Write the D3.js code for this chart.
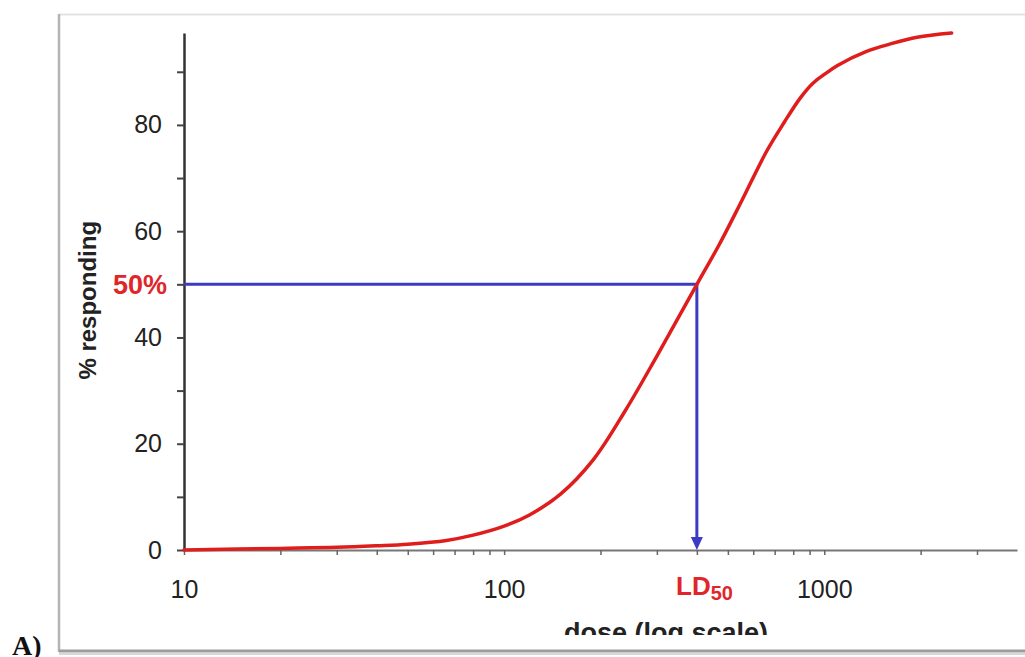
<!DOCTYPE html>
<html>
<head>
<meta charset="utf-8">
<script src="https://cdn.jsdelivr.net/npm/d3@7"></script>
<style>
  body { margin: 0; background: #fff; }
  svg { display: block; }
  text { font-family: "Liberation Sans", Arial, sans-serif; }
</style>
</head>
<body>
<svg id="chart"></svg>
<script>
// dose-response curve
var doses     = [10, 20, 30, 40, 50, 66, 80, 100, 120, 150, 190, 240, 300, 400, 470, 550, 660, 750, 840, 920, 1000, 1100, 1350, 1600, 1950, 2500];
var responses = [0, 0.3, 0.5, 0.8, 1.1, 1.8, 2.8, 4.5, 6.6, 10.5, 17, 26.4, 36.5, 50, 57.5, 65.5, 75, 80.5, 85, 87.8, 89.5, 91.2, 93.8, 95.2, 96.5, 97.3];

var ld50 = 400;
var yTicks = [0, 10, 20, 30, 40, 50, 60, 70, 80, 90];
var yLabels = [0, 20, 40, 60, 80];
var xTicks = [10, 20, 30, 40, 50, 60, 70, 80, 90,
              100, 200, 300, 400, 500, 600, 700, 800, 900,
              1000, 2000, 3000];
var xLabels = [10, 100, 1000];

var W = 1025, H = 657;
var svg = d3.select("#chart").attr("width", W).attr("height", H);

// slide frame
svg.append("rect").attr("x", 59).attr("y", 14).attr("width", 1000).attr("height", 638).attr("fill", "#fff");
svg.append("line").attr("x1", 59).attr("x2", 1025).attr("y1", 14.5).attr("y2", 14.5)
    .style("stroke", "#e4e4e4").style("stroke-width", 2);
svg.append("line").attr("x1", 59).attr("x2", 59).attr("y1", 14).attr("y2", 652)
    .style("stroke", "#b4b4b4").style("stroke-width", 2.5);
svg.append("line").attr("x1", 59).attr("x2", 1025).attr("y1", 651).attr("y2", 651)
    .style("stroke", "#9c9c9c").style("stroke-width", 3);
svg.append("line").attr("x1", 59).attr("x2", 1025).attr("y1", 654).attr("y2", 654)
    .style("stroke", "#d8d8d8").style("stroke-width", 2);

svg.append("clipPath").attr("id", "inner")
  .append("rect").attr("x", 60).attr("y", 15).attr("width", 970).attr("height", 620);

var x = d3.scaleLog().domain([10, 4000]).range([184, 1017]);
var y = d3.scaleLinear().domain([0, 97.3]).range([550, 33]);

// y axis
var yAxis = svg.append("g")
    .attr("transform", "translate(" + x(10) + ",0)")
    .call(d3.axisLeft(y).tickValues(yTicks).tickSize(7).tickSizeOuter(0).tickPadding(15)
        .tickFormat(d => (yLabels.indexOf(d) >= 0 ? d : "")));
yAxis.select(".domain").style("stroke", "#333").style("stroke-width", 2.5);
yAxis.selectAll(".tick line").style("stroke", "#444").style("stroke-width", 2);
yAxis.selectAll("text").style("font-size", "25px").style("fill", "#222");

// x axis
var xAxis = svg.append("g")
    .attr("transform", "translate(0," + y(0) + ")")
    .call(d3.axisBottom(x).tickValues(xTicks).tickSize(5).tickSizeOuter(0).tickPadding(25)
        .tickFormat(d => (xLabels.indexOf(d) >= 0 ? d : "")));
xAxis.select(".domain").style("stroke", "#777").style("stroke-width", 2);
xAxis.selectAll(".tick line").style("stroke", "#666").style("stroke-width", 1.5);
xAxis.selectAll("text").style("font-size", "25px").style("fill", "#222");

// LD50 guide lines
var blue = "#3b3bc4";
svg.append("path")
    .attr("d", "M" + x(10) + "," + y(50) + "H" + x(ld50) + "V" + (y(0) - 10))
    .style("fill", "none").style("stroke", blue).style("stroke-width", 3);
svg.append("path")
    .attr("d", "M" + (x(ld50) - 6) + "," + (y(0) - 13) + "L" + (x(ld50) + 6) + "," + (y(0) - 13) +
               "L" + x(ld50) + "," + y(0) + "Z")
    .style("fill", blue);

// response curve
var line = d3.line()
    .x((d, i) => x(doses[i]))
    .y((d, i) => y(responses[i]))
    .curve(d3.curveCatmullRom.alpha(0.5));

svg.append("path")
    .datum(doses)
    .attr("d", line)
    .style("fill", "none")
    .style("stroke", "#e01d1d")
    .style("stroke-width", 3.5)
    .style("stroke-linejoin", "round")
    .style("stroke-linecap", "round");

// labels
svg.append("text")
    .attr("x", 167).attr("y", y(50)).attr("dy", "0.36em")
    .attr("text-anchor", "end")
    .style("font-size", "27px").style("font-weight", "bold").style("fill", "#e0262a")
    .text("50%");

var ld = svg.append("text")
    .attr("x", 676).attr("y", 595)
    .style("font-size", "26px").style("font-weight", "bold").style("fill", "#e0262a");
ld.append("tspan").text("LD");
ld.append("tspan").attr("dy", 5).style("font-size", "20px").text("50");

svg.append("text")
    .attr("transform", "translate(96," + y(47) + ") rotate(-90)")
    .attr("text-anchor", "middle")
    .style("font-size", "24px").style("font-weight", "bold").style("fill", "#222")
    .text("% responding");

svg.append("text")
    .attr("clip-path", "url(#inner)")
    .attr("x", 666).attr("y", 642)
    .attr("text-anchor", "middle")
    .style("font-size", "27px").style("font-weight", "bold").style("fill", "#222")
    .text("dose (log scale)");

svg.append("text")
    .attr("x", 12).attr("y", 655)
    .style("font-family", "'Liberation Serif', 'Times New Roman', serif")
    .style("font-size", "28px").style("font-weight", "bold").style("fill", "#111")
    .text("A)");
</script>
</body>
</html>
